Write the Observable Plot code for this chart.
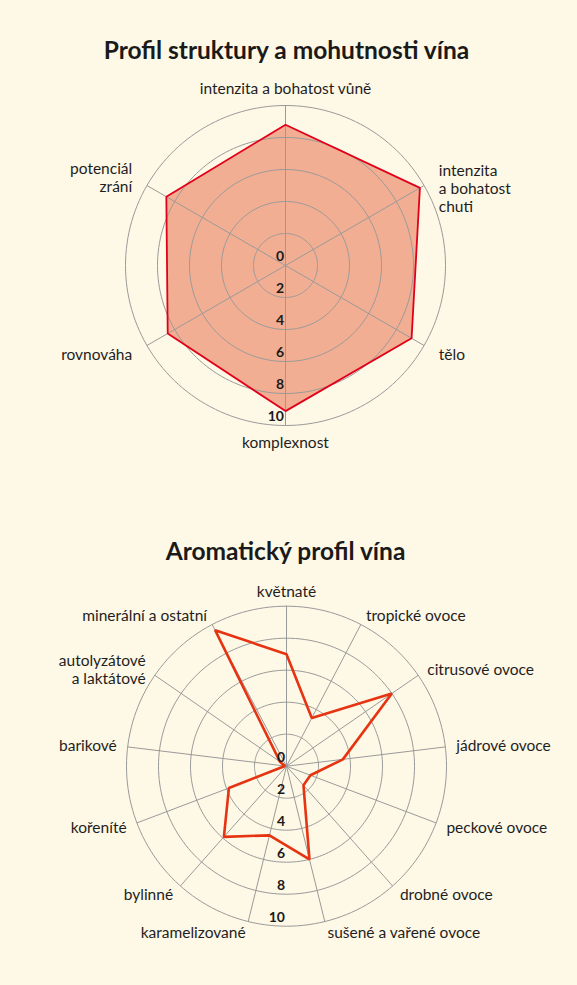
<!DOCTYPE html>
<html><head><meta charset="utf-8">
<script src="https://cdn.jsdelivr.net/npm/d3@7"></script>
<script src="https://cdn.jsdelivr.net/npm/@observablehq/plot@0.6"></script>
<style>
body{margin:0;background:#fef8e6;}
#page{position:relative;width:577px;height:985px;background:#fef8e6;font-family:Lato,sans-serif;overflow:hidden;}
.title{position:absolute;width:577px;text-align:center;font-weight:700;font-size:24.5px;line-height:28px;color:#1a1a1a;}
.chart{position:absolute;left:0;}
</style></head><body>
<div id="page">
<div class="title" style="top:36px;left:-2px">Profil struktury a mohutnosti vína</div>
<div class="chart" id="c1" style="top:70px"></div>
<div class="title" style="top:537px;left:-3px">Aromatický profil vína</div>
<div class="chart" id="c2" style="top:570px"></div>
</div>
<script>
// ---- data ----
const structureCategories = ["intenzita a bohatost vůně", "intenzita\na bohatost\nchuti", "tělo", "komplexnost", "rovnováha", "potenciál\nzrání"];
const structureValues = [8.8, 9.7, 9.1, 9.1, 8.5, 8.6];

const aromaCategories = ["květnaté", "tropické ovoce", "citrusové ovoce", "jádrové ovoce", "peckové ovoce", "drobné ovoce", "sušené a vařené ovoce", "karamelizované", "bylinné", "kořeníté", "barikové", "autolyzátové\na laktátové", "minerální a ostatní"];
const aromaValues = [7.0, 3.4, 8.0, 3.55, 1.6, 1.6, 6.0, 4.45, 5.9, 3.85, 0.1, 0.5, 9.6];

const tickValues = [0, 2, 4, 6, 8, 10];
const ringValues = [2, 4, 6, 8, 10];
const maxValue = 10;

function radar({cats, vals, cx, cy, H, labelR, nudge = {}, fill, stroke, strokeWidth}) {
  const W = 577, K = 16;
  const n = cats.length;
  const ang = i => 2 * Math.PI * i / n;
  const pts = vals.map((v, i) => ({x: v * Math.sin(ang(i)), y: v * Math.cos(ang(i))}));
  const ringPts = ringValues.flatMap(r => d3.range(0, 361, 2).map(a => ({r, x: r * Math.sin(a * Math.PI / 180), y: r * Math.cos(a * Math.PI / 180)})));
  const spokes = cats.map((c, i) => ({x: maxValue * Math.sin(ang(i)), y: maxValue * Math.cos(ang(i))}));
  const labels = cats.map((c, i) => {
    const s = Math.sin(ang(i));
    return {text: c, x: labelR * s, y: labelR * Math.cos(ang(i)),
      anchor: Math.abs(s) < 0.05 ? "middle" : s > 0 ? "start" : "end", dy: nudge[i] || 0};
  });
  const groups = d3.groups(labels, d => d.anchor + "|" + d.dy);
  const marks = [];
  if (fill) marks.push(Plot.line(pts, {x: "x", y: "y", curve: "linear-closed", fill, stroke: "none"}));
  marks.push(Plot.line(ringPts, {x: "x", y: "y", z: "r", stroke: "#9a9a9a", strokeWidth: 1}));
  marks.push(Plot.link(spokes, {x1: () => 0, y1: () => 0, x2: "x", y2: "y", stroke: "#9a9a9a", strokeWidth: 1}));
  marks.push(Plot.line(pts, {x: "x", y: "y", curve: "linear-closed", stroke, strokeWidth, strokeLinejoin: "miter"}));
  marks.push(Plot.text(tickValues, {x: () => 0, y: d => -d, text: d => String(d), textAnchor: "end", dx: -1.5, dy: -8.5, fontWeight: "bold", fontSize: 14, fill: "#1a1a1a"}));
  for (const [key, g] of groups) {
    marks.push(Plot.text(g, {x: "x", y: "y", text: "text", textAnchor: g[0].anchor, lineAnchor: "middle", lineHeight: 1.15, dy: g[0].dy, fontSize: 15.5, fill: "#1e1e1e"}));
  }
  return Plot.plot({
    width: W, height: H, margin: 0,
    x: {domain: [-cx / K, (W - cx) / K], range: [0, W], axis: null},
    y: {domain: [-(H - cy) / K, cy / K], range: [H, 0], axis: null},
    style: {background: "transparent", fontFamily: "Lato, sans-serif", overflow: "visible"},
    marks
  });
}

document.getElementById("c1").append(radar({
  cats: structureCategories, vals: structureValues, cx: 285, cy: 195, H: 410,
  labelR: 177 / 16, nudge: {1: 11}, fill: "#f2ae93", stroke: "#e1001a", strokeWidth: 1.8
}));
document.getElementById("c2").append(radar({
  cats: aromaCategories, vals: aromaValues, cx: 286, cy: 195.7, H: 410,
  labelR: 171 / 16, nudge: {0: -4}, fill: null, stroke: "#e63312", strokeWidth: 2.6
}));
</script>
</body></html>
